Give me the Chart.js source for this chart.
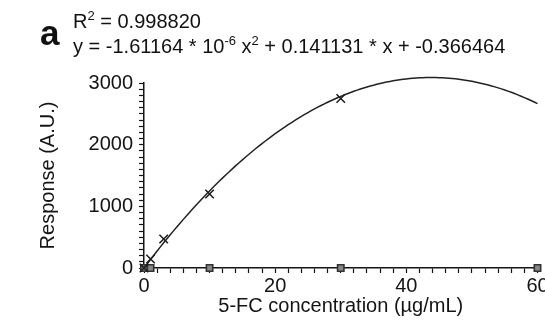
<!DOCTYPE html>
<html>
<head>
<meta charset="utf-8">
<script src="https://cdn.jsdelivr.net/npm/chart.js@4.4.1/dist/chart.umd.min.js"></script>
<style>
  html, body { margin: 0; padding: 0; background: #fff; overflow: hidden; }
  #wrap { position: relative; width: 545px; height: 326px; }
  canvas { position: absolute; left: 0; top: 0; }
  .txt { position: absolute; font-family: "Liberation Sans", Arial, sans-serif; color: #111; white-space: nowrap; }
  .panel { left: 40px; top: 16px; font-size: 35px; line-height: 34px; font-weight: bold; }
  .eq { left: 73px; font-size: 20px; line-height: 20px; }
  .eq sup { font-size: 13px; position: relative; top: -8px; vertical-align: baseline; line-height: 0; }
</style>
</head>
<body>
<div id="wrap">
  <canvas id="c" width="545" height="326"></canvas>
  <div class="txt panel">a</div>
  <div class="txt eq" style="top:11px">R<sup>2</sup> = 0.998820</div>
  <div class="txt eq" style="top:36px">y = -1.61164 * 10<sup>-6</sup> x<sup>2</sup> + 0.141131 * x + -0.366464</div>
</div>
<script>
// Measured responses of the 5-FC standards (concentration in µg/mL)
const standardConc = [0, 1, 3, 10, 30];
const standardResp = [0, 146, 470, 1200, 2750];

// Blank / background readings
const blankConc = [0, 1, 10, 30, 60];
const blankResp = [0, 0, 0, 0, 0];

// Quadratic fit coefficients (x expressed in ng/mL): y = a*x^2 + b*x + c
const fitCoef = [-1.61164e-6, 0.141131, -0.366464];
const fitRange = [0, 60];   // µg/mL

// Axis ticks
const xTickLabels = [0, 20, 40, 60];
const yTickLabels = [0, 1000, 2000, 3000];

// Fitted curve evaluated along the concentration axis
const fitCurve = [];
for (let x = fitRange[0]; x <= fitRange[1] + 1e-9; x += 0.5) {
  const ng = x * 1000;
  fitCurve.push({ x: x, y: fitCoef[0] * ng * ng + fitCoef[1] * ng + fitCoef[2] });
}

const ink = '#141414';
const font = { family: '"Liberation Sans", Arial, sans-serif', size: 20 };

new Chart(document.getElementById('c'), {
  type: 'scatter',
  data: {
    datasets: [
      {
        type: 'line',
        data: fitCurve,
        borderColor: '#222',
        borderWidth: 1.5,
        pointRadius: 0,
        tension: 0,
        fill: false,
        clip: false
      },
      {
        data: standardConc.map((x, i) => ({ x: x, y: standardResp[i] })),
        pointStyle: 'crossRot',
        pointRadius: 6,
        borderColor: '#1a1a1a',
        borderWidth: 1.5,
        backgroundColor: '#1a1a1a',
        clip: false
      },
      {
        data: blankConc.map((x, i) => ({ x: x, y: blankResp[i] })),
        pointStyle: 'rect',
        pointRadius: 4.5,
        borderColor: '#333',
        borderWidth: 1.6,
        backgroundColor: '#888',
        clip: false
      }
    ]
  },
  options: {
    responsive: false,
    animation: false,
    devicePixelRatio: 1,
    layout: { padding: { top: 83, right: 7, bottom: 0, left: 0 } },
    plugins: { legend: { display: false }, tooltip: { enabled: false } },
    scales: {
      x: {
        type: 'linear',
        min: 0,
        max: 60,
        border: { display: true, color: ink, width: 1.5 },
        grid: { drawOnChartArea: false, drawTicks: true, tickLength: 5, tickColor: ink, tickWidth: 1.2 },
        ticks: {
          stepSize: 2,
          autoSkip: false,
          maxRotation: 0,
          padding: 1,
          color: ink,
          font: font,
          callback: v => xTickLabels.includes(v) ? String(v) : ''
        },
        title: {
          display: true,
          text: '5-FC concentration (µg/mL)',
          color: ink,
          font: font,
          padding: { top: 0, bottom: 8 }
        },
        afterFit: s => { s.height = 58; s.paddingLeft = 0; s.paddingRight = 0; }
      },
      y: {
        type: 'linear',
        min: 0,
        max: 3000,
        border: { display: true, color: ink, width: 1.5 },
        grid: { drawOnChartArea: false, drawTicks: true, tickLength: 5, tickColor: ink, tickWidth: 1.2 },
        ticks: {
          stepSize: 100,
          autoSkip: false,
          padding: 6,
          color: ink,
          font: font,
          callback: v => yTickLabels.includes(v) ? String(v) : ''
        },
        title: {
          display: true,
          text: 'Response (A.U.)',
          color: ink,
          font: font,
          padding: { top: 36, bottom: 0 }
        },
        afterFit: s => { s.width = 144; s.paddingTop = 0; s.paddingBottom = 0; }
      }
    }
  }
});
</script>
</body>
</html>
